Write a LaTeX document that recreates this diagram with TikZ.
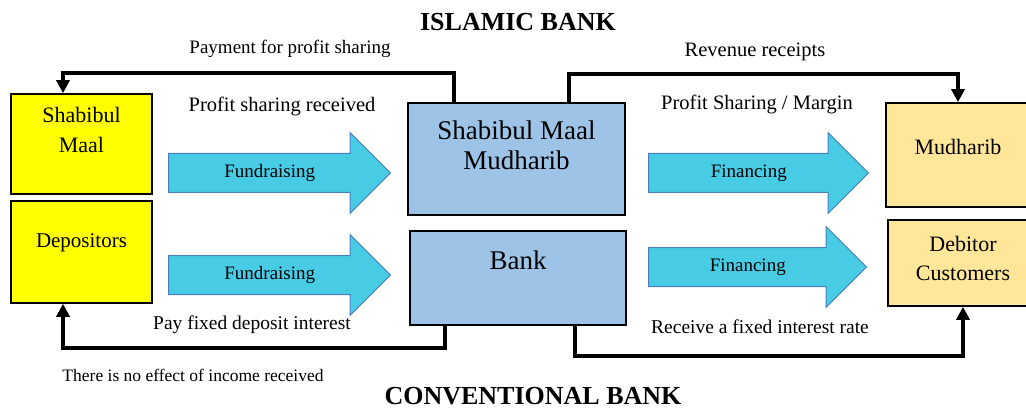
\documentclass[tikz,border=0pt]{standalone}
\usepackage{fontspec}
\newfontfamily\diagramfont{Liberation Serif}
\usetikzlibrary{shapes, arrows.meta, positioning}

\definecolor{fundyellow}{HTML}{FFFF00}
\definecolor{bankblue}{HTML}{9DC3E6}
\definecolor{clientorange}{HTML}{FFE699}
\definecolor{arrowcyan}{HTML}{48CCE6}
\definecolor{arrowedge}{HTML}{4A7EBB}

\begin{document}
\begin{tikzpicture}[
    x=1pt, y=-1pt,
    title/.style={
        font=\diagramfont\bfseries\fontsize{26}{30}\selectfont
    },
    party/.style={
        draw=black,
        line width=1.6pt,
        fill=#1,
        inner sep=0pt
    },
    partytext/.style={
        align=center,
        font=\diagramfont\fontsize{22}{30}\selectfont
    },
    banktext/.style={
        align=center,
        font=\diagramfont\fontsize{27}{30}\selectfont
    },
    bigarrow/.style={
        single arrow,
        draw=arrowedge,
        line width=1pt,
        fill=arrowcyan,
        anchor=tail,
        minimum height=222pt,
        single arrow head extend=21pt,
        text height=13pt,
        text depth=4pt,
        inner xsep=4pt,
        inner ysep=10.5pt,
        font=\diagramfont\fontsize{19}{22}\selectfont
    },
    flowtext/.style={
        font=\diagramfont\fontsize{#1}{22}\selectfont
    },
    flowtext/.default=19.5,
    flow/.style={
        line width=4pt,
        -{Triangle[width=13pt, length=13pt]}
    }
]
    \useasboundingbox (0,0) rectangle (1026,409);

    % Titles
    \node[title] (islamic) at (518,22) {ISLAMIC BANK};
    \node[title] (conventional) at (533,396) {CONVENTIONAL BANK};

    % Fund owners
    \node[party=fundyellow, minimum width=141pt, minimum height=100pt,
        label={[partytext, yshift=14pt]center:Shabibul\\Maal}] (shabibul) at (81.5,144) {};
    \node[party=fundyellow, minimum width=141pt, minimum height=102pt,
        label={[partytext, font=\diagramfont\fontsize{21}{30}\selectfont, yshift=9pt]center:Depositors}] (depositors) at (81.5,252) {};

    % Banks
    \node[party=bankblue, minimum width=217pt, minimum height=112pt,
        label={[banktext, yshift=14pt]center:Shabibul Maal\\Mudharib}] (smm) at (516.5,159) {};
    \node[party=bankblue, minimum width=216pt, minimum height=94pt,
        label={[banktext, yshift=18pt]center:Bank}] (bank) at (518,278) {};

    % Fund users
    \node[party=clientorange, minimum width=144pt, minimum height=104pt,
        label={[partytext, yshift=8pt]center:Mudharib}] (mudharib) at (958,155) {};
    \node[party=clientorange, minimum width=150pt, minimum height=86pt,
        label={[partytext, font=\diagramfont\fontsize{22}{29}\selectfont, yshift=5pt]center:Debitor\\Customers}] (debitor) at (963,263) {};

    % Big arrows
    \node[bigarrow] (fundA) at (168,173) {Fundraising};
    \node[bigarrow] (fundB) at (168,275) {Fundraising};
    \node[bigarrow, minimum height=220pt] (finA) at (648,173) {Financing};
    \node[bigarrow, minimum height=218pt] (finB) at (648,267) {Financing};

    % Flows
    \draw[flow] ([xshift=47pt]smm.north west) -- ++(0,-29) -| ([xshift=-18.5pt]shabibul.north);
    \draw[flow] ([xshift=162pt]smm.north west) -- ++(0,-28) -| (mudharib.north);
    \draw[flow] ([xshift=36pt]bank.south west) -- ++(0,22) -| ([xshift=-18.5pt]depositors.south);
    \draw[flow] ([xshift=166pt]bank.south west) -- ++(0,30) -| (debitor.south);

    % Flow labels
    \node[flowtext=19] (payment) at (290,49) {Payment for profit sharing};
    \node[flowtext=20.5] (received) at (282,106) {Profit sharing received};
    \node[flowtext=20.5] (revenue) at (755,52) {Revenue receipts};
    \node[flowtext=20.5] (margin) at (757,104) {Profit Sharing / Margin};
    \node[flowtext] (payfixed) at (252,325) {Pay fixed deposit interest};
    \node[flowtext] (receive) at (760,327) {Receive a fixed interest rate};
    \node[flowtext=17.5] (noeffect) at (193,375) {There is no effect of income received};

\end{tikzpicture}
\end{document}
